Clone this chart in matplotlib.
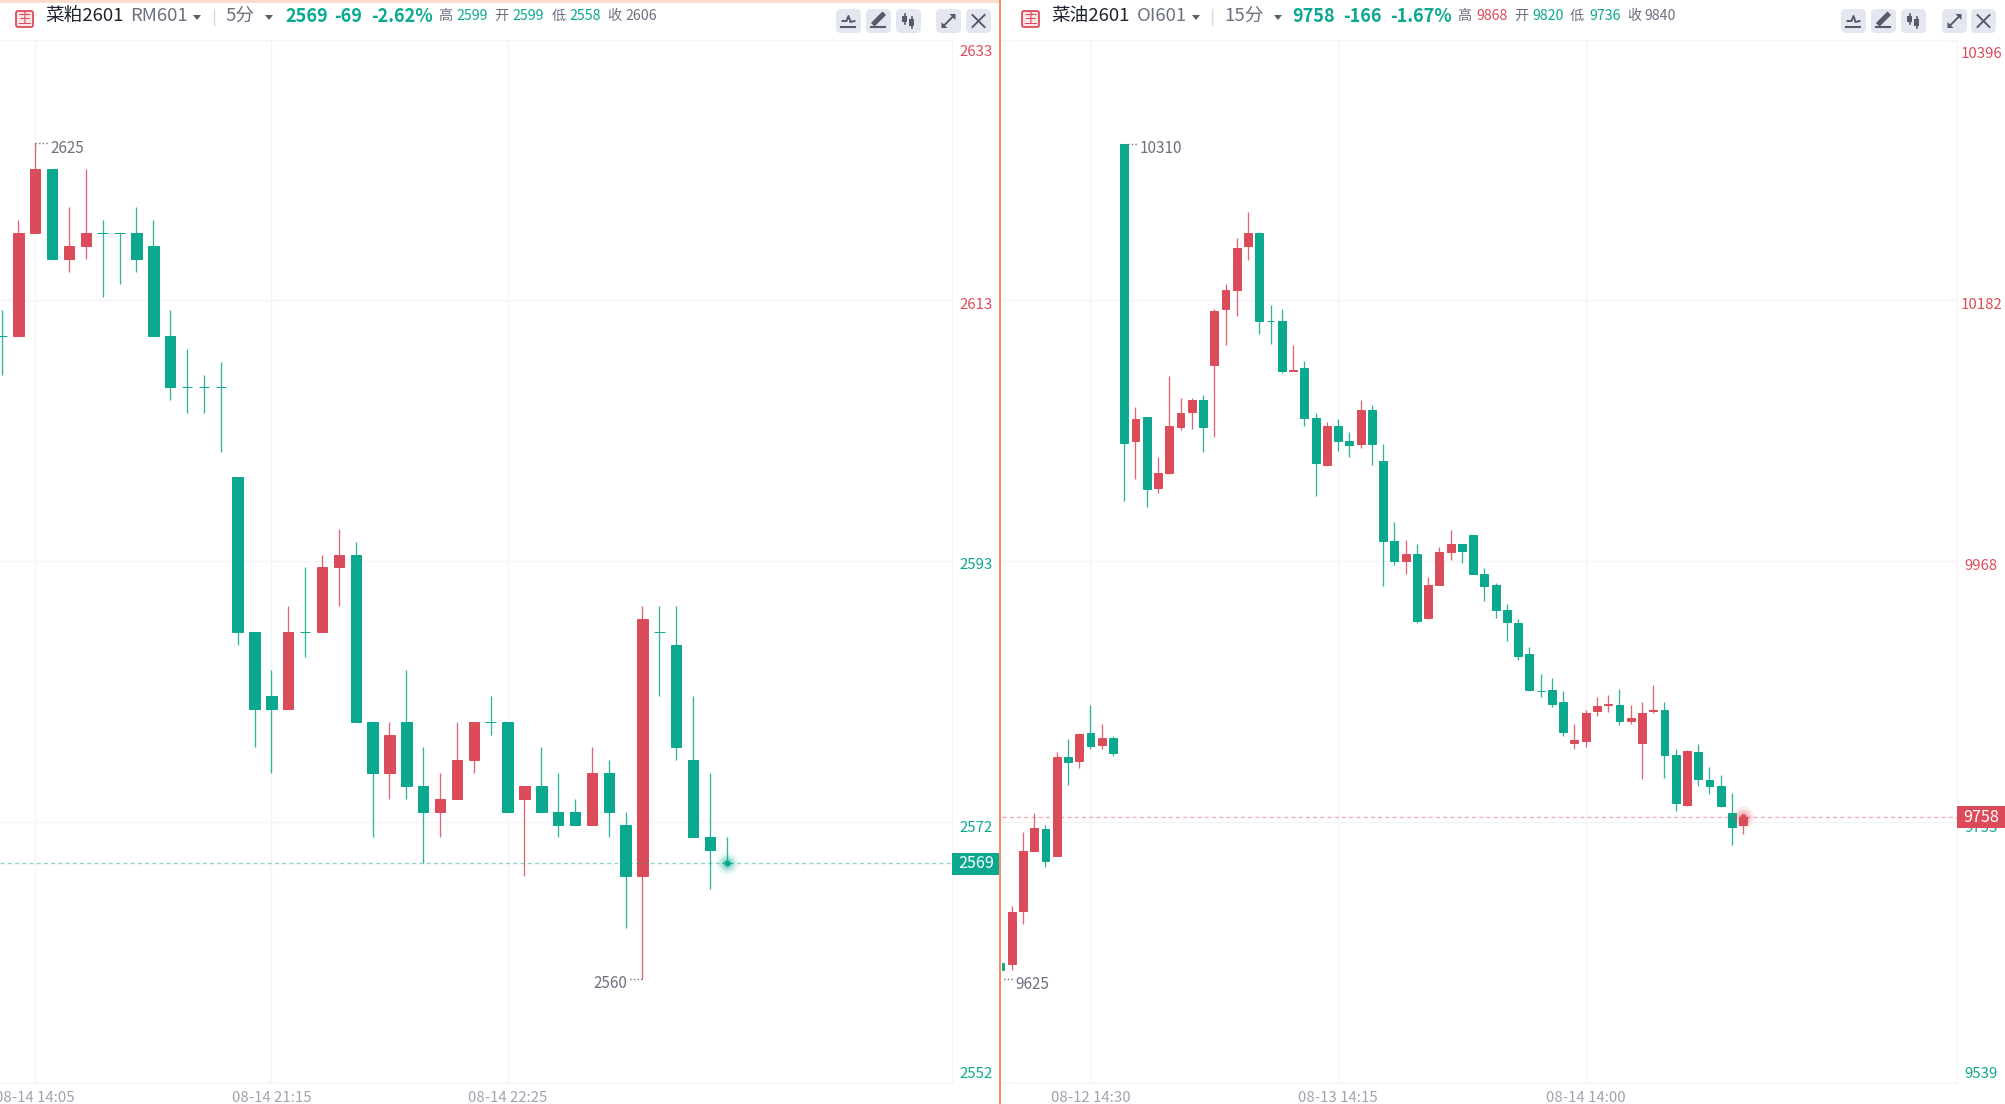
import matplotlib
matplotlib.use('Agg')
import matplotlib.pyplot as plt
from matplotlib.patches import FancyBboxPatch, Rectangle
from matplotlib.transforms import ScaledTranslation
import numpy as np

plt.rcParams['font.family'] = ['Noto Sans CJK SC', 'DejaVu Sans']

W, H = 2005, 1104
GREEN = '#0AA88E'
RED = '#DC4B59'
GRID = '#F4F4F6'
GREY = '#6C7080'
AXIS_GREY = '#9FA3B2'

# 菜粕2601 5分
rm_open = [2610, 2610, 2618, 2623, 2616, 2617, 2618, 2618, 2618, 2617, 2610, 2606, 2606, 2606, 2599,
           2587, 2582, 2581, 2587, 2587, 2592, 2593, 2580, 2576, 2580, 2575, 2573, 2574, 2577, 2580,
           2580, 2574, 2575, 2573, 2573, 2572, 2576, 2572, 2568, 2587, 2586, 2577, 2571, 2569]
rm_close = [2610, 2618, 2623, 2616, 2617, 2618, 2618, 2618, 2616, 2610, 2606, 2606, 2606, 2606, 2587,
            2581, 2581, 2587, 2587, 2592, 2593, 2580, 2576, 2579, 2575, 2573, 2574, 2577, 2580, 2580,
            2573, 2575, 2573, 2572, 2572, 2576, 2573, 2568, 2588, 2587, 2578, 2571, 2570, 2569]
rm_high = [2612, 2619, 2625, 2623, 2620, 2623, 2619, 2618, 2620, 2619, 2612, 2609, 2607, 2608, 2599,
           2587, 2584, 2589, 2592, 2593, 2595, 2594, 2580, 2580, 2584, 2578, 2576, 2580, 2580, 2582,
           2580, 2575, 2578, 2576, 2574, 2578, 2577, 2573, 2589, 2589, 2589, 2582, 2576, 2571]
rm_low = [2607, 2610, 2618, 2616, 2615, 2616, 2613, 2614, 2615, 2610, 2605, 2604, 2604, 2601, 2586,
          2578, 2576, 2581, 2585, 2587, 2589, 2580, 2571, 2574, 2574, 2569, 2571, 2574, 2576, 2579,
          2573, 2568, 2573, 2571, 2572, 2572, 2571, 2564, 2560, 2582, 2577, 2571, 2567, 2569]
rm_ticks = [2633.01, 2612.78, 2592.48, 2572.18, 2551.91]
rm_tick_labels = ['2633', '2613', '2593', '2572', '2552']
rm_tick_colors = [RED, RED, GREEN, GREEN, GREEN]
rm_time_pos = [2, 16, 30]
rm_time_labels = ['08-14 14:05', '08-14 21:15', '08-14 22:25']

# 菜油2601 15分
oi_open = [9638, 9637, 9681, 9730, 9748, 9726, 9807, 9804, 9827, 9817, 9823, 10310, 10066, 10086, 10028,
           10040, 10078, 10090, 10100, 10129, 10175, 10190, 10226, 10237, 10165, 10165, 10124, 10126, 10085,
           10047, 10079, 10066, 10064, 10092, 10050, 9984, 9968, 9974, 9921, 9948, 9975, 9982, 9989, 9957,
           9948, 9928, 9917, 9892, 9861, 9862, 9852, 9819, 9820, 9845, 9850, 9850, 9837, 9819, 9845, 9846,
           9809, 9768, 9811, 9788, 9783, 9761, 9751]
oi_close = [9632, 9680, 9730, 9749, 9722, 9807, 9803, 9826, 9816, 9823, 9810, 10065, 10084, 10027, 10040,
            10079, 10089, 10100, 10078, 10173, 10190, 10225, 10237, 10165, 10165, 10124, 10125, 10085, 10048,
            10079, 10066, 10063, 10092, 10064, 9984, 9968, 9974, 9919, 9948, 9975, 9982, 9976, 9957, 9947,
            9928, 9918, 9890, 9862, 9861, 9851, 9828, 9821, 9843, 9849, 9851, 9837, 9839, 9843, 9846, 9809,
            9769, 9812, 9789, 9783, 9767, 9750, 9758]
oi_high = [9640, 9685, 9746, 9761, 9751, 9811, 9822, 9827, 9850, 9834, 9824, 10310, 10094, 10086, 10053,
           10120, 10102, 10102, 10104, 10175, 10195, 10233, 10254, 10238, 10178, 10175, 10145, 10132, 10089,
           10082, 10084, 10074, 10100, 10096, 10064, 10000, 9985, 9982, 9955, 9979, 9993, 9982, 9989, 9962,
           9950, 9933, 9920, 9897, 9875, 9872, 9861, 9834, 9846, 9856, 9858, 9863, 9850, 9852, 9866, 9852,
           9814, 9813, 9818, 9799, 9792, 9778, 9760]
oi_low = [9625, 9632, 9670, 9730, 9717, 9726, 9784, 9798, 9814, 9814, 9808, 10017, 10035, 10012, 10024,
          10039, 10075, 10076, 10057, 10070, 10145, 10169, 10215, 10154, 10146, 10122, 10124, 10079, 10021,
          10046, 10058, 10053, 10061, 10047, 9947, 9965, 9957, 9917, 9920, 9948, 9969, 9966, 9957, 9935,
          9921, 9902, 9887, 9861, 9856, 9848, 9824, 9814, 9815, 9841, 9844, 9833, 9834, 9789, 9843, 9790,
          9763, 9767, 9783, 9777, 9766, 9735, 9744]
oi_ticks = [10395.3, 10182.0, 9967.9, 9753.8, 9539.7]
oi_tick_labels = ['10396', '10182', '9968', '9753', '9539']
oi_tick_colors = [RED, RED, RED, GREEN, GREEN]
oi_time_pos = [8, 30, 52]
oi_time_labels = ['08-12 14:30', '08-13 14:15', '08-14 14:00']

fig = plt.figure(figsize=(W / 100, H / 100), dpi=100, facecolor='white')


def px_axes(x0, x1, y0, y1):
    return fig.add_axes([x0 / W, 1 - y1 / H, (x1 - x0) / W, (y1 - y0) / H])


def draw_panel(ax, o, h, l, c, width, ticks, tick_labels, tick_colors, tick_shift,
               time_pos, time_labels, last, xlim, ylim):
    o, h, l, c = map(np.array, (o, h, l, c))
    x = np.arange(len(o))
    colors = [RED if b > a else GREEN for a, b in zip(o, c)]
    ax.vlines(x, l, h, colors=colors, lw=0.95, alpha=0.85, zorder=3)
    ax.bar(x, c - o, bottom=o, width=width, color=colors, edgecolor=colors, linewidth=0.7, zorder=4)

    color = colors[-1]
    ax.axhline(last, color=color, lw=1, alpha=0.45, dashes=(3, 2.2), zorder=5)
    for size, alpha in [(240, 0.10), (130, 0.16), (60, 0.22)]:
        ax.scatter(x[-1], last, s=size, color=color, alpha=alpha, lw=0, zorder=6)
    ax.scatter(x[-1], last, s=20, color=color, lw=0, zorder=6)

    ax.set_xlim(*xlim)
    ax.set_ylim(*ylim)
    ax.yaxis.tick_right()
    ax.set_yticks(ticks, tick_labels)
    ax.set_xticks(time_pos, time_labels)
    ax.grid(True, color=GRID, lw=1)
    ax.set_axisbelow(True)
    ax.tick_params(axis='y', length=0, pad=17.5, labelsize=10.8)
    ax.tick_params(axis='x', length=0, pad=5.5, labelsize=10.8, labelcolor=AXIS_GREY)
    for s in ['left']:
        ax.spines[s].set_visible(False)
    for s in ['top', 'right', 'bottom']:
        ax.spines[s].set_color(GRID)
    for lab, col, dy in zip(ax.get_yticklabels(), tick_colors, tick_shift):
        lab.set_color(col)
        lab.set_ha('center')
        lab.set_transform(lab.get_transform() + ScaledTranslation(0, -dy / 100, fig.dpi_scale_trans))

    # 最高最低价标记
    hi = int(np.argmax(h))
    lo = int(np.argmin(l))
    span = 13 / (ax.get_window_extent().width / (xlim[1] - xlim[0]))
    ax.plot([hi, hi + span], [h[hi], h[hi]], color=GREY, lw=1, ls=(0, (1, 1.6)), zorder=5)
    ax.annotate(str(h[hi]), (hi + span, h[hi]), xytext=(2, -5), textcoords='offset pixels',
                ha='left', va='center', color=GREY, fontsize=11)
    lo_dir = 1 if lo < 5 else -1
    ax.plot([lo, lo + lo_dir * span], [l[lo], l[lo]], color=GREY, lw=1, ls=(0, (1, 1.6)), zorder=5)
    ax.annotate(str(l[lo]), (lo + lo_dir * span, l[lo]), xytext=(lo_dir * 2, -5), textcoords='offset pixels',
                ha='left' if lo_dir > 0 else 'right', va='center', color=GREY, fontsize=11)


ax1 = px_axes(0, 952, 40, 1083)
draw_panel(ax1, rm_open, rm_high, rm_low, rm_close, 0.62, rm_ticks, rm_tick_labels, rm_tick_colors,
           [11, 3, 2, 4, -10], rm_time_pos, rm_time_labels, 2569, (-0.09, 56.35), (2551.91, 2633.01))
ax2 = px_axes(1002, 1957, 40, 1083)
draw_panel(ax2, oi_open, oi_high, oi_low, oi_close, 0.70, oi_ticks, oi_tick_labels, oi_tick_colors,
           [12, 3, 3, 4, -10], oi_time_pos, oi_time_labels, 9758, (0.14, 84.99), (9539.7, 10395.3))

# 顶部标题等都放在一张像素坐标的覆盖层上
ov = fig.add_axes([0, 0, 1, 1], zorder=20)
ov.set_xlim(0, W)
ov.set_ylim(H, 0)
ov.axis('off')
ov.patch.set_alpha(0)

ov.add_patch(Rectangle((0, 0), 999, 2.5, color='#FBDCCD', lw=0))
ov.add_patch(Rectangle((999.5, 0), 2, H, color='#F58E68', lw=0))
ov.add_patch(Rectangle((952, 853), 47.5, 22, color=GREEN, lw=0))
ov.text(976, 864, '2569', color='white', fontsize=11.6, fontweight='medium', ha='center', va='center')
ov.add_patch(Rectangle((1957, 806), 48, 22, color=RED, lw=0))
ov.text(1981, 817, '9758', color='white', fontsize=11.6, fontweight='medium', ha='center', va='center')


def header(dx, title, code, code_x, caret1, sep, period, period_x, caret2, pieces):
    ov.add_patch(FancyBboxPatch((16 + dx, 11), 17, 16, boxstyle='round,pad=0,rounding_size=2',
                                fc='#FDE6E7', ec=RED, lw=1.3))
    ov.text(24.5 + dx, 18.5, '主', color=RED, fontsize=10, ha='center', va='center')
    ov.text(45 + dx, 16, title, color='#1F2230', fontsize=13.4, ha='left', va='center')
    ov.text(code_x, 16, code, color=GREY, fontsize=13.4, ha='left', va='center')
    ov.plot([sep, sep], [9, 25], color='#D5D8E0', lw=1)
    ov.text(period_x, 16, period, color=GREY, fontsize=13.4, ha='left', va='center')
    for cx in (caret1, caret2):
        ov.fill([cx - 4, cx + 4, cx], [15, 15, 20], color='#5A5E6E', lw=0)
    for px, s, col, size, weight in pieces:
        ov.text(px, 16, s, color=col, fontsize=size, fontweight=weight, ha='left', va='center')


def buttons(xs):
    for i, bx in enumerate(xs):
        ov.add_patch(FancyBboxPatch((bx, 9), 25, 24, boxstyle='round,pad=0,rounding_size=5',
                                    fc='#E4E7F0', ec='none'))
        cx, cy = bx + 12.5, 21
        c = '#565A6B'
        if i == 0:
            ov.plot([cx - 6, cx - 2, cx, cx + 2, cx + 6], [cy, cy, cy - 5, cy + 1, cy], color=c, lw=1.4)
            ov.plot([cx - 7, cx + 7], [cy + 6, cy + 6], color=c, lw=1.5)
        elif i == 1:
            ov.plot([cx - 4, cx + 4], [cy + 2, cy - 6], color=c, lw=3.6)
            ov.plot([cx - 7, cx + 7], [cy + 6, cy + 6], color=c, lw=1.5)
        elif i == 2:
            ov.plot([cx - 3.5, cx - 3.5], [cy - 7, cy + 3], color=c, lw=1.2)
            ov.add_patch(Rectangle((cx - 6, cy - 5), 5, 6, color=c, lw=0))
            ov.plot([cx + 3.5, cx + 3.5], [cy - 4, cy + 7], color=c, lw=1.2)
            ov.add_patch(Rectangle((cx + 1, cy - 2), 5, 7, color=c, lw=0))
        elif i == 3:
            ov.plot([cx - 5, cx + 5], [cy + 5, cy - 5], color=c, lw=1.4)
            ov.fill([cx + 7, cx + 1, cx + 7], [cy - 7, cy - 7, cy - 1], color=c, lw=0)
            ov.fill([cx - 7, cx - 1, cx - 7], [cy + 7, cy + 7, cy + 1], color=c, lw=0)
        else:
            ov.plot([cx - 6, cx + 6], [cy - 6, cy + 6], color=c, lw=1.4)
            ov.plot([cx - 6, cx + 6], [cy + 6, cy - 6], color=c, lw=1.4)


S = 10.2
B = 13
header(0, '菜粕2601', 'RM601', 130, 197, 214, '5分', 225, 269, [
    (285, '2569', GREEN, B, 'bold'), (334, '-69', GREEN, B, 'bold'), (371, '-2.62%', GREEN, B, 'bold'),
    (438, '高', GREY, S, 'normal'), (456, '2599', GREEN, S, 'normal'),
    (494, '开', GREY, S, 'normal'), (512, '2599', GREEN, S, 'normal'),
    (552, '低', GREY, S, 'normal'), (569, '2558', GREEN, S, 'normal'),
    (607, '收', GREY, S, 'normal'), (625, '2606', GREY, S, 'normal')])
header(1006, '菜油2601', 'OI601', 1137, 1196, 1212, '15分', 1224, 1278, [
    (1292, '9758', GREEN, B, 'bold'), (1343, '-166', GREEN, B, 'bold'), (1390, '-1.67%', GREEN, B, 'bold'),
    (1457, '高', GREY, S, 'normal'), (1476, '9868', RED, S, 'normal'),
    (1514, '开', GREY, S, 'normal'), (1532, '9820', GREEN, S, 'normal'),
    (1570, '低', GREY, S, 'normal'), (1589, '9736', GREEN, S, 'normal'),
    (1627, '收', GREY, S, 'normal'), (1644, '9840', GREY, S, 'normal')])
buttons([836, 866, 896, 936, 966])
buttons([1841, 1871, 1901, 1942, 1971])

fig.savefig('out.png', dpi=100)
